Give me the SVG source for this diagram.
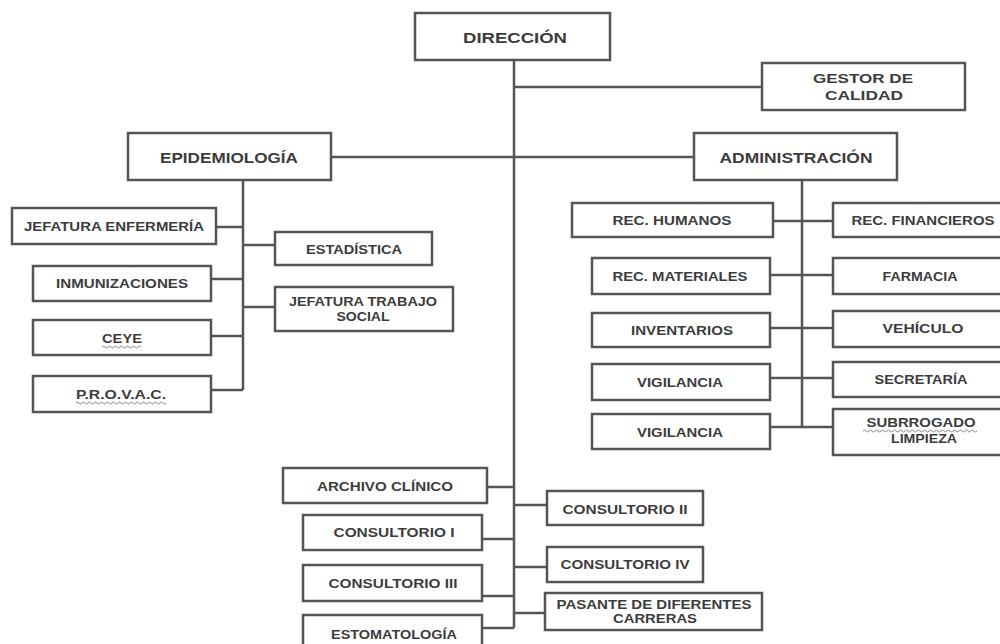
<svg xmlns="http://www.w3.org/2000/svg" width="1000" height="644" viewBox="0 0 1000 644">
<style>
.b{fill:#fff;stroke:#555;stroke-width:2.5}
.c{fill:none;stroke:#555;stroke-width:2.5}
.t{font-family:"Liberation Sans",Arial,sans-serif;font-weight:bold;fill:#3c3c3c;font-size:12.5px;text-anchor:middle}
.l{font-size:15px}
.m{font-size:14px}
.w{fill:none;stroke:#888;stroke-width:1}
</style>
<rect width="1000" height="644" fill="#fff"/>
<g id="connectors">
<path class="c" d="M514 60V628M514 87H762M331 157H694M243 180V390M216 227H243M211 279H243M211 336H243M211 390H243M243 245H275M243 307H275M802 180V427M773 221H833M770 275H833M770 328H833M770 378H833M770 427H833M487 487H514M482 539H514M482 596H514M482 628H514M514 505H547M514 567H547M514 613H545"/>
</g>
<g id="direccion"><rect class="b" x="415" y="13" width="195" height="47"/><text class="t l" x="515" y="43" textLength="104" lengthAdjust="spacingAndGlyphs">DIRECCIÓN</text></g>
<g id="gestor"><rect class="b" x="762" y="63" width="203" height="47"/><text class="t" x="863" y="83" textLength="100" lengthAdjust="spacingAndGlyphs">GESTOR DE</text><text class="t" x="864" y="100" textLength="78" lengthAdjust="spacingAndGlyphs">CALIDAD</text></g>
<g id="epidemiologia"><rect class="b" x="128" y="133" width="203" height="47"/><text class="t m" x="229" y="163" textLength="138" lengthAdjust="spacingAndGlyphs">EPIDEMIOLOGÍA</text></g>
<g id="administracion"><rect class="b" x="694" y="133" width="203" height="47"/><text class="t m" x="796" y="163" textLength="153" lengthAdjust="spacingAndGlyphs">ADMINISTRACIÓN</text></g>
<g id="jef-enfermeria"><rect class="b" x="12" y="208" width="204" height="36"/><text class="t" x="114" y="231" textLength="180" lengthAdjust="spacingAndGlyphs">JEFATURA ENFERMERÍA</text></g>
<g id="estadistica"><rect class="b" x="275" y="232" width="157" height="33"/><text class="t" x="354" y="254" textLength="96" lengthAdjust="spacingAndGlyphs">ESTADÍSTICA</text></g>
<g id="inmunizaciones"><rect class="b" x="33" y="266" width="178" height="35"/><text class="t" x="122" y="288" textLength="132" lengthAdjust="spacingAndGlyphs">INMUNIZACIONES</text></g>
<g id="jef-trabajo-social"><rect class="b" x="275" y="287" width="178" height="44"/><text class="t" x="363" y="306" textLength="148" lengthAdjust="spacingAndGlyphs">JEFATURA TRABAJO</text><text class="t" x="363" y="321" textLength="53" lengthAdjust="spacingAndGlyphs">SOCIAL</text></g>
<g id="ceye"><rect class="b" x="33" y="320" width="178" height="35"/><text class="t" x="122" y="343" textLength="40" lengthAdjust="spacingAndGlyphs">CEYE</text><path class="w" d="M102 347q1.5 -2 3 0t3 0t3 0t3 0t3 0t3 0t3 0t3 0t3 0t3 0t3 0t3 0t3 0"/></g>
<g id="provac"><rect class="b" x="33" y="376" width="178" height="36"/><text class="t" x="121" y="399" textLength="90" lengthAdjust="spacingAndGlyphs">P.R.O.V.A.C.</text><path class="w" d="M76 403q1.5 -2 3 0t3 0t3 0t3 0t3 0t3 0t3 0t3 0t3 0t3 0t3 0t3 0t3 0t3 0t3 0t3 0t3 0t3 0t3 0t3 0t3 0t3 0t3 0t3 0t3 0t3 0t3 0t3 0t3 0t3 0"/></g>
<g id="rec-humanos"><rect class="b" x="572" y="203" width="201" height="34"/><text class="t" x="672" y="225" textLength="119" lengthAdjust="spacingAndGlyphs">REC. HUMANOS</text></g>
<g id="rec-financieros"><rect class="b" x="833" y="203" width="175" height="34"/><text class="t" x="923" y="225" textLength="143" lengthAdjust="spacingAndGlyphs">REC. FINANCIEROS</text></g>
<g id="rec-materiales"><rect class="b" x="592" y="258" width="178" height="36"/><text class="t" x="680" y="281" textLength="135" lengthAdjust="spacingAndGlyphs">REC. MATERIALES</text></g>
<g id="farmacia"><rect class="b" x="833" y="258" width="175" height="36"/><text class="t" x="920" y="281" textLength="75" lengthAdjust="spacingAndGlyphs">FARMACIA</text></g>
<g id="inventarios"><rect class="b" x="592" y="313" width="178" height="34"/><text class="t" x="682" y="335" textLength="102" lengthAdjust="spacingAndGlyphs">INVENTARIOS</text></g>
<g id="vehiculo"><rect class="b" x="833" y="311" width="175" height="36"/><text class="t" x="923" y="333" textLength="81" lengthAdjust="spacingAndGlyphs">VEHÍCULO</text></g>
<g id="vigilancia1"><rect class="b" x="592" y="364" width="178" height="36"/><text class="t" x="680" y="387" textLength="86" lengthAdjust="spacingAndGlyphs">VIGILANCIA</text></g>
<g id="secretaria"><rect class="b" x="833" y="362" width="175" height="35"/><text class="t" x="921" y="384" textLength="93" lengthAdjust="spacingAndGlyphs">SECRETARÍA</text></g>
<g id="vigilancia2"><rect class="b" x="592" y="414" width="178" height="35"/><text class="t" x="680" y="437" textLength="86" lengthAdjust="spacingAndGlyphs">VIGILANCIA</text></g>
<g id="subrrogado"><rect class="b" x="833" y="409" width="175" height="46"/><text class="t" x="921" y="427" textLength="109" lengthAdjust="spacingAndGlyphs">SUBRROGADO</text><text class="t" x="924" y="443" textLength="66" lengthAdjust="spacingAndGlyphs">LIMPIEZA</text><path class="w" d="M863 431q1.5 -2 3 0t3 0t3 0t3 0t3 0t3 0t3 0t3 0t3 0t3 0t3 0t3 0t3 0t3 0t3 0t3 0t3 0t3 0t3 0t3 0t3 0t3 0t3 0t3 0t3 0t3 0t3 0t3 0t3 0t3 0t3 0t3 0t3 0t3 0t3 0t3 0t3 0t3 0"/></g>
<g id="archivo"><rect class="b" x="283" y="468" width="204" height="35"/><text class="t" x="385" y="491" textLength="136" lengthAdjust="spacingAndGlyphs">ARCHIVO CLÍNICO</text></g>
<g id="consultorio2"><rect class="b" x="547" y="491" width="156" height="34"/><text class="t" x="625" y="514" textLength="125" lengthAdjust="spacingAndGlyphs">CONSULTORIO II</text></g>
<g id="consultorio1"><rect class="b" x="303" y="515" width="179" height="35"/><text class="t" x="394" y="537" textLength="121" lengthAdjust="spacingAndGlyphs">CONSULTORIO I</text></g>
<g id="consultorio4"><rect class="b" x="547" y="547" width="156" height="35"/><text class="t" x="625" y="569" textLength="129" lengthAdjust="spacingAndGlyphs">CONSULTORIO IV</text></g>
<g id="consultorio3"><rect class="b" x="303" y="565" width="179" height="36"/><text class="t" x="393" y="588" textLength="129" lengthAdjust="spacingAndGlyphs">CONSULTORIO III</text></g>
<g id="pasante"><rect class="b" x="545" y="593" width="217" height="37"/><text class="t" x="654" y="609" textLength="195" lengthAdjust="spacingAndGlyphs">PASANTE  DE DIFERENTES</text><text class="t" x="655" y="623" textLength="84" lengthAdjust="spacingAndGlyphs">CARRERAS</text></g>
<g id="estomatologia"><rect class="b" x="303" y="615" width="179" height="40"/><text class="t" x="394" y="639" textLength="126" lengthAdjust="spacingAndGlyphs">ESTOMATOLOGÍA</text></g>
</svg>
